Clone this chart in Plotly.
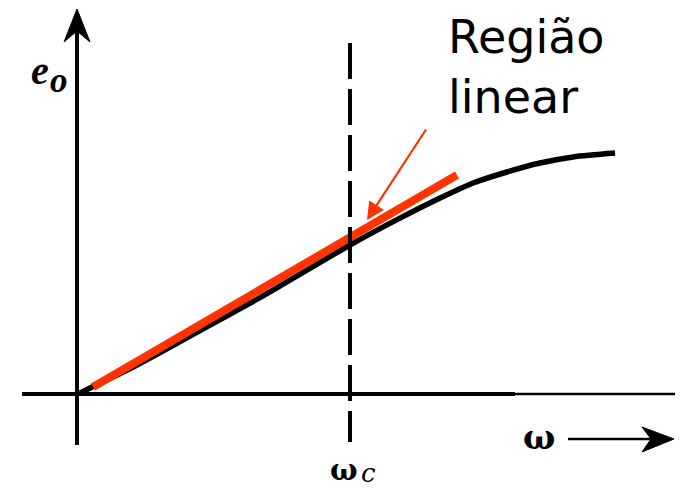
import plotly.graph_objects as go

# Output response e_o versus normalised frequency (omega / omega_c)
omega = [0.011, 0.048, 0.220, 0.462, 0.681, 1.000, 1.183, 1.330, 1.451, 1.575, 1.696, 1.817, 1.971]
e_o = [0.007, 0.040, 0.195, 0.437, 0.658, 1.000, 1.180, 1.315, 1.416, 1.490, 1.550, 1.591, 1.617]

# Straight-line approximation of the linear region
omega_lin = [0.0586, 1.392]
e_lin = [0.047, 1.470]

omega_c = 1.0

W, H = 682, 490
# screen layout: origin position and scale (pixels per unit)
X0, SX = 77, 273
Y0, SY = 394, 149


def wx(px):
    return (px - X0) / SX


def ey(py):
    return (Y0 - py) / SY


RED = "#ff3300"
BLACK = "#000000"

fig = go.Figure()

# response curve
fig.add_trace(go.Scatter(x=omega, y=e_o, mode="lines",
                         line=dict(color=BLACK, width=5.5, shape="spline", smoothing=0.8),
                         hoverinfo="skip"))
# linear approximation
fig.add_trace(go.Scatter(x=omega_lin, y=e_lin, mode="lines",
                         line=dict(color=RED, width=8), hoverinfo="skip"))

shapes = []
# vertical axis
shapes.append(dict(type="line", x0=0, x1=0, y0=ey(445), y1=ey(28),
                   line=dict(color=BLACK, width=4)))
# vertical axis arrowhead
tip = [(77, 9), (64, 42), (77, 31), (90, 42)]
path = "M " + " L ".join(f"{wx(a)},{ey(b)}" for a, b in tip) + " Z"
shapes.append(dict(type="path", path=path, fillcolor=BLACK, line=dict(color=BLACK, width=1)))
# horizontal axis
shapes.append(dict(type="line", x0=wx(22), x1=wx(515), y0=0, y1=0,
                   line=dict(color=BLACK, width=4)))
shapes.append(dict(type="line", x0=wx(515), x1=wx(675), y0=0, y1=0,
                   line=dict(color=BLACK, width=2.5)))
# cutoff frequency marker
shapes.append(dict(type="line", x0=omega_c, x1=omega_c, y0=ey(43), y1=ey(442),
                   line=dict(color=BLACK, width=4, dash="36px,10px")))
# omega direction arrow
shapes.append(dict(type="line", x0=wx(568), x1=wx(655), y0=ey(439), y1=ey(439),
                   line=dict(color=BLACK, width=2.5)))
head = [(674, 439), (642, 427), (651, 439), (642, 452)]
path = "M " + " L ".join(f"{wx(a)},{ey(b)}" for a, b in head) + " Z"
shapes.append(dict(type="path", path=path, fillcolor=BLACK, line=dict(color=BLACK, width=1)))

annotations = []
# pointer to the linear region
annotations.append(dict(x=wx(367), y=ey(220), ax=wx(427), ay=ey(128),
                        xref="x", yref="y", axref="x", ayref="y", text="",
                        showarrow=True, arrowhead=2, arrowsize=1.6, arrowwidth=2.2,
                        arrowcolor=RED, standoff=0))
annotations.append(dict(x=wx(446), y=ey(8), xref="x", yref="y", xanchor="left", yanchor="top",
                        text="Região<br>linear", showarrow=False, align="left",
                        font=dict(family="DejaVu Sans", size=46, color=BLACK)))
# axis labels
serif = dict(family="Liberation Serif", color=BLACK)
greek = dict(family="DejaVu Serif", color=BLACK)
annotations.append(dict(x=wx(40), y=ey(70), xref="x", yref="y", text="<b><i>e</i></b>",
                        showarrow=False, font=dict(size=40, **serif)))
annotations.append(dict(x=wx(59), y=ey(80), xref="x", yref="y", text="<b><i>o</i></b>",
                        showarrow=False, font=dict(size=35, **serif)))
annotations.append(dict(x=wx(539), y=ey(437), xref="x", yref="y", text="<b>ω</b>",
                        showarrow=False, font=dict(size=34, **greek)))
annotations.append(dict(x=wx(344), y=ey(470), xref="x", yref="y", text="<b>ω</b>",
                        showarrow=False, font=dict(size=29, **greek)))
annotations.append(dict(x=wx(368), y=ey(473), xref="x", yref="y",
                        text="<i>c</i>", showarrow=False, font=dict(size=26, **greek)))

fig.update_layout(
    width=W, height=H,
    margin=dict(l=0, r=0, t=0, b=0),
    paper_bgcolor="white", plot_bgcolor="white",
    showlegend=False,
    shapes=shapes, annotations=annotations,
    xaxis=dict(range=[wx(0), wx(W)], visible=False, fixedrange=True),
    yaxis=dict(range=[ey(H), ey(0)], visible=False, fixedrange=True),
)

fig.write_html("out.html")
